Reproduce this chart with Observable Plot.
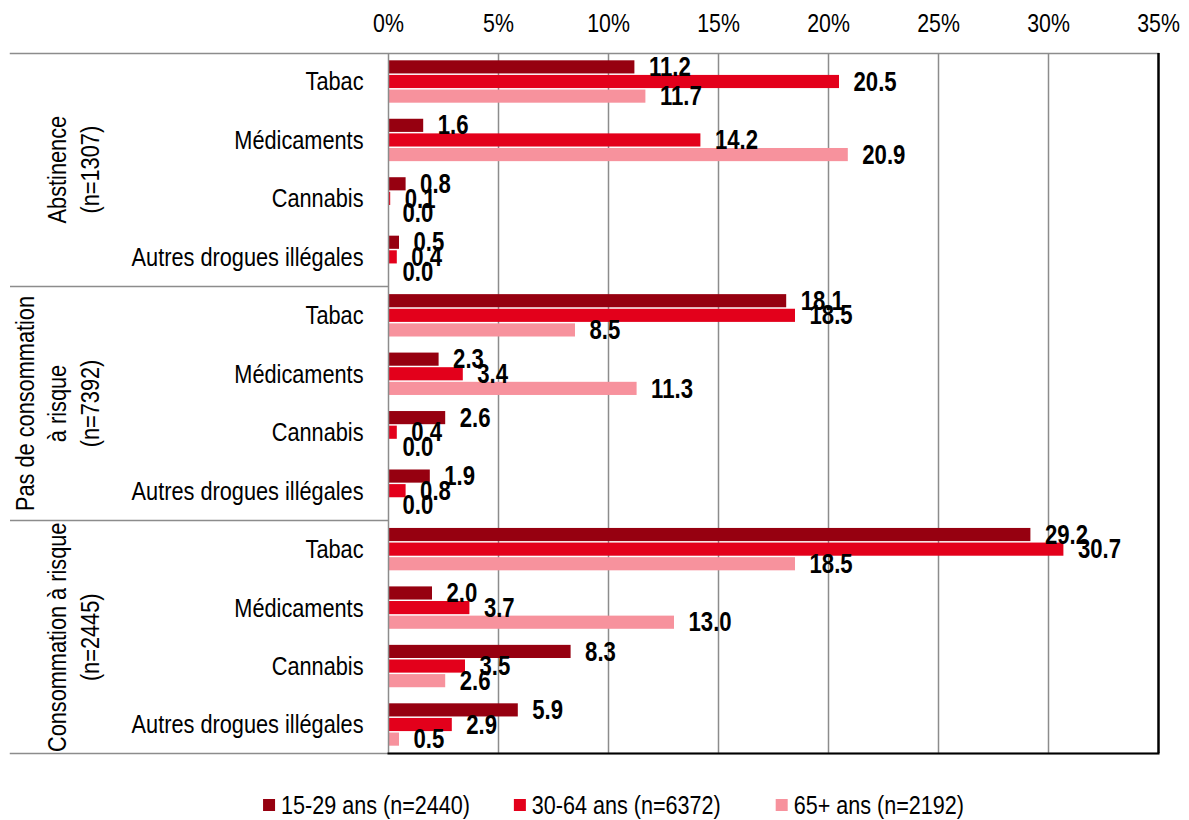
<!DOCTYPE html>
<html>
<head>
<meta charset="utf-8">
<script src="https://cdn.jsdelivr.net/npm/d3@7"></script>
<script src="https://cdn.jsdelivr.net/npm/@observablehq/plot@0.6"></script>
<style>
  html, body { margin: 0; padding: 0; background: #fff; }
  body { width: 1189px; height: 820px; overflow: hidden; font-family: 'Liberation Sans', Arial, sans-serif; }
  #legend { display: block; }
</style>
</head>
<body>
<div id="chart"></div>
<div id="legend"></div>
<script>
const groups = ["Abstinence\n(n=1307)", "Pas de consommation\nà risque\n(n=7392)", "Consommation à risque\n(n=2445)"];
const categories = ["Tabac", "Médicaments", "Cannabis", "Autres drogues illégales"];
const series = ["15-29 ans (n=2440)", "30-64 ans (n=6372)", "65+ ans (n=2192)"];
const colors = ["#960010", "#E3001B", "#F7929D"];
const xTicks = [0, 5, 10, 15, 20, 25, 30, 35];
// values per group × category (order: groups then categories)
const v15_29 = [11.2, 1.6, 0.8, 0.5, 18.1, 2.3, 2.6, 1.9, 29.2, 2.0, 8.3, 5.9];
const v30_64 = [20.5, 14.2, 0.1, 0.4, 18.5, 3.4, 0.4, 0.8, 30.7, 3.7, 3.5, 2.9];
const v65 = [11.7, 20.9, 0.0, 0.0, 8.5, 11.3, 0.0, 0.0, 18.5, 13.0, 2.6, 0.5];
const seriesValues = [v15_29, v30_64, v65];

const FONT = "'Liberation Sans', Arial, sans-serif";
const NARROW = 0.82; // Arial Narrow ≈ Arial condensed horizontally

const rows = [];
const yDomain = [];
const labelKeys = [];
const catOfKey = new Map();
const sepKeys = [];
const groupRows = [];
groups.forEach((g, gi) => {
  categories.forEach((c, ci) => {
    const idx = gi * categories.length + ci;
    series.forEach((s, si) => {
      const key = `${gi}|${ci}|${si}`;
      yDomain.push(key);
      rows.push({key, series: s, value: seriesValues[si][idx]});
      if (si === 1) { labelKeys.push(key); catOfKey.set(key, c); }
    });
    const last = gi === groups.length - 1 && ci === categories.length - 1;
    if (!last) {
      const sp = `${gi}|${ci}|sp`;
      yDomain.push(sp);
      if (ci === categories.length - 1) sepKeys.push(sp);
      if (ci === 1) groupRows.push({key: sp, label: g});
    }
  });
});

const chart = Plot.plot({
  width: 1189,
  height: 775,
  marginLeft: 388,
  marginRight: 31,
  marginTop: 53,
  marginBottom: 22,
  style: {fontFamily: FONT, fontSize: "26px", color: "#000", background: "#fff", overflow: "visible"},
  x: {domain: [0, 35], axis: null},
  y: {domain: yDomain, paddingInner: 0.1, paddingOuter: 0.5, round: false, axis: null},
  color: {domain: series, range: colors},
  marks: [
    Plot.ruleX(xTicks.filter(d => d > 0 && d < 35), {stroke: "#8c8c8c", strokeWidth: 1.5}),
    Plot.barX(rows, {x: "value", y: "key", fill: "series"}),
    Plot.ruleX([0], {stroke: "#8c8c8c", strokeWidth: 1.5}),
    Plot.frame({anchor: "top", insetLeft: -378, stroke: "#8c8c8c", strokeWidth: 1.5}),
    Plot.frame({anchor: "bottom", insetLeft: -378, stroke: "#8c8c8c", strokeWidth: 1.5}),
    Plot.frame({anchor: "bottom", stroke: "#000", strokeWidth: 2}),
    Plot.ruleX([35], {stroke: "#000", strokeWidth: 2.5}),
    Plot.axisX({anchor: "top", ticks: xTicks, tickFormat: d => d + "%", tickSize: 0, tickPadding: 22, label: null, fontSize: 26}),
    Plot.axisY({ticks: labelKeys, tickFormat: k => catOfKey.get(k), tickSize: 0, tickPadding: 25, label: null, fontSize: 26.5}),
    Plot.axisY({ticks: sepKeys, tickFormat: () => "", tickSize: 378, stroke: "#8c8c8c", strokeWidth: 1.5, label: null}),
    Plot.text(groupRows, {y: "key", text: "label", frameAnchor: "left", dx: -290, rotate: -90, textAnchor: "middle", lineAnchor: "bottom", lineHeight: 1.22, fontSize: 26.5}),
    Plot.text(rows, {x: "value", y: "key", text: d => d.value.toFixed(1), textAnchor: "start", dx: 14, fontWeight: "bold", fontSize: 27})
  ]
});
document.getElementById("chart").appendChild(chart);

// Legend (below the SVG)
const legendGaps = [44, 55];
const lsvg = d3.select("#legend").append("svg")
  .attr("width", 1189).attr("height", 45)
  .style("font-family", FONT).style("font-size", "26.3px").style("display", "block");
const items = lsvg.append("g");
let cursor = 0;
series.forEach((s, i) => {
  const g = items.append("g").attr("transform", `translate(${cursor},0)`);
  g.append("rect").attr("x", 0).attr("y", 24).attr("width", 12).attr("height", 12).attr("fill", colors[i]);
  const t = g.append("text").attr("x", 18).attr("y", 39).attr("fill", "#000").text(s);
  const L = t.node().getComputedTextLength() * NARROW;
  t.attr("textLength", L).attr("lengthAdjust", "spacingAndGlyphs");
  cursor += 18 + L + (legendGaps[i] || 0);
});
items.attr("transform", `translate(${(1189 - cursor) / 2 + 19},0)`);

// Condense all chart texts horizontally to mimic Arial Narrow
function condense(svg) {
  svg.querySelectorAll("text").forEach(t => {
    const tspans = t.querySelectorAll("tspan");
    const els = tspans.length ? Array.from(tspans) : [t];
    els.forEach(el => {
      const L = el.getComputedTextLength();
      if (L > 0) {
        el.setAttribute("textLength", L * NARROW);
        el.setAttribute("lengthAdjust", "spacingAndGlyphs");
      }
    });
  });
}
condense(chart);
</script>
</body>
</html>
